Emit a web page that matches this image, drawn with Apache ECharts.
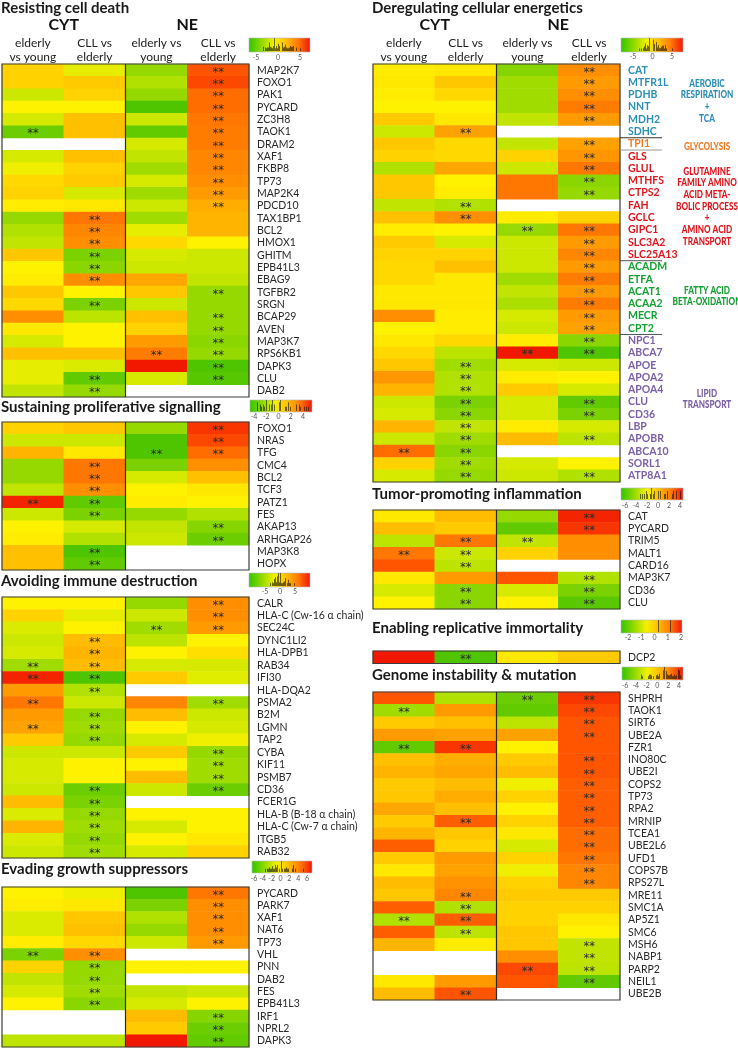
<!DOCTYPE html>
<html><head><meta charset="utf-8">
<script src="https://cdn.jsdelivr.net/npm/echarts@6.0.0/dist/echarts.min.js"></script>
<style>html,body{margin:0;padding:0;background:#fff}#c{width:738px;height:1049px}</style>
</head><body><div id="c"></div>
<script>
// ---------- DATA ----------
const columns = ['CYT elderly vs young', 'CYT CLL vs elderly', 'NE elderly vs young', 'NE CLL vs elderly'];

const cellDeathGenes = ['MAP2K7','FOXO1','PAK1','PYCARD','ZC3H8','TAOK1','DRAM2','XAF1','FKBP8','TP73','MAP2K4','PDCD10','TAX1BP1','BCL2','HMOX1','GHITM','EPB41L3','EBAG9','TGFBR2','SRGN','BCAP29','AVEN','MAP3K7','RPS6KB1','DAPK3','CLU','DAB2'];
const cellDeathValues = [
  [1,-0.5,-2,4],[1,1.2,-1.5,4.2],[-1,1,-2,3.5],[0,0,-3.5,3.5],[-0.8,1.5,-1,3.3],[-2.8,1.5,-3,3.2],
  [null,null,-0.8,3.2],[-0.8,1.5,-1.2,3],[-0.3,1,-1.8,3],[0.8,1.2,-0.8,2.8],[1,-0.8,-1.8,2.5],[0.2,0.3,-1,2],
  [-2,3.3,-1.8,1.8],[-1.5,3,-0.5,1.8],[-1.2,2.8,0.8,0],[1.3,-2.5,-0.8,-1],[0,-2.2,-1,-1],[0.2,2.8,2.2,-1.2],
  [1.3,0,1.3,-2],[0.8,-2.5,-1,-2],[2.8,-1.3,1.5,-2],[0.3,0,1,-2],[-0.8,0,2.5,-2.2],[1.5,1.5,3.2,-2],
  [-0.5,-0.7,5,-3.5],[-0.5,-3,-0.8,-3.3],[-1.2,-2,null,null]
];
const cellDeathSig = [
  [0,0,0,1],[0,0,0,1],[0,0,0,1],[0,0,0,1],[0,0,0,1],[1,0,0,1],[0,0,0,1],[0,0,0,1],[0,0,0,1],[0,0,0,1],
  [0,0,0,1],[0,0,0,1],[0,1,0,0],[0,1,0,0],[0,1,0,0],[0,1,0,0],[0,1,0,0],[0,1,0,0],[0,0,0,1],[0,1,0,0],
  [0,0,0,1],[0,0,0,1],[0,0,0,1],[0,0,1,1],[0,0,0,1],[0,1,0,1],[0,1,0,0]
];

const prolifGenes = ['FOXO1','NRAS','TFG','CMC4','BCL2','TCF3','PATZ1','FES','AKAP13','ARHGAP26','MAP3K8','HOPX'];
const prolifValues = [
  [1,1.3,-2,4.5],[-1,-1,-3.5,4.2],[1.8,0.3,-3.5,3.5],[-2,3.3,-2.5,2.8],[-2,3.3,-0.8,1.5],[-1.2,2.8,0,0.3],
  [4.8,-3,0.2,0],[-1,-2.5,-2,-1.5],[0,-0.8,-1.2,-2.3],[0.2,-1.5,-1,-2.8],[1.5,-3.5,null,null],[1.5,-3,null,null]
];
const prolifSig = [
  [0,0,0,1],[0,0,0,1],[0,0,1,1],[0,1,0,0],[0,1,0,0],[0,1,0,0],[1,1,0,0],[0,1,0,0],[0,0,0,1],[0,0,0,1],[0,1,0,0],[0,1,0,0]
];

const immuneGenes = ['CALR','HLA-C (Cw-16 \u03b1 chain)','SEC24C','DYNC1LI2','HLA-DPB1','RAB34','IFI30','HLA-DQA2','PSMA2','B2M','LGMN','TAP2','CYBA','KIF11','PSMB7','CD36','FCER1G','HLA-B (B-18 \u03b1 chain)','HLA-C (Cw-7 \u03b1 chain)','ITGB5','RAB32'];
const immuneValues = [
  [0,0,-2,2.8],[1,-0.5,-1,2.8],[-0.7,0,-1.8,2.5],[-1,1.6,-1.3,0],[-0.8,1.8,0,0.6],[-1.8,1.6,-0.8,-0.8],
  [4.8,-3.5,1.2,-0.6],[2.5,-1.5,null,null],[3.3,-1,3,-1.8],[2.5,-2,1.6,-1],[2.3,-1.8,0,-0.8],[1.2,-2,-0.8,-0.3],
  [-1,-1,1.2,-2],[-0.8,0,0,-1.8],[-0.8,0,1.6,-1.8],[-1,-2.8,-1,-2.8],[1.6,-2.5,null,null],[-0.7,-2,0,0],
  [1.8,-1.8,-0.8,0],[-0.7,-2,0,0.3],[-1,-1.8,-0.8,1]
];
const immuneSig = [
  [0,0,0,1],[0,0,0,1],[0,0,1,1],[0,1,0,0],[0,1,0,0],[1,1,0,0],[1,1,0,0],[0,1,0,0],[1,0,0,1],[0,1,0,0],
  [1,1,0,0],[0,1,0,0],[0,0,0,1],[0,0,0,1],[0,0,0,1],[0,1,0,1],[0,1,0,0],[0,1,0,0],[0,1,0,0],[0,1,0,0],[0,1,0,0]
];

const suppressorGenes = ['PYCARD','PARK7','XAF1','NAT6','TP73','VHL','PNN','DAB2','FES','EPB41L3','IRF1','NPRL2','DAPK3'];
const suppressorValues = [
  [0,-0.3,-3.5,3.3],[0.2,0.3,-2.5,2.8],[-0.7,1.3,-1.5,2.8],[-0.7,1.5,-2,2.8],[0.2,0.8,-1,2.5],[-2.5,2.8,null,null],
  [1,-2,0,0],[-1.2,-2,null,null],[-0.8,-1.8,-1.2,-1],[0,-2.2,-0.8,0],[null,null,1.6,-2.3],[null,null,1.2,-2.8],[-1.3,-1.3,5,-3]
];
const suppressorSig = [
  [0,0,0,1],[0,0,0,1],[0,0,0,1],[0,0,0,1],[0,0,0,1],[1,1,0,0],[0,1,0,0],[0,1,0,0],[0,1,0,0],[0,1,0,0],[0,0,0,1],[0,0,0,1],[0,0,0,1]
];

const energeticsGenes = ['CAT','MTFR1L','PDHB','NNT','MDH2','SDHC','TPI1','GLS','GLUL','MTHFS','CTPS2','FAH','GCLC','GIPC1','SLC3A2','SLC25A13','ACADM','ETFA','ACAT1','ACAA2','MECR','CPT2','NPC1','ABCA7','APOE','APOA2','APOA4','CLU','CD36','LBP','APOBR','ABCA10','SORL1','ATP8A1'];
const energeticsValues = [
  [0.2,0.3,-2.3,2.8],[0.3,1.3,-1.8,2.5],[0.2,0.8,-1.8,2.8],[0,0,-1.8,3.2],[1.2,0.3,-1.2,2.5],[-1,2.3,null,null],
  [1.3,0.8,-1.2,2.3],[1,0.8,1,2.6],[-1.5,2.2,-1,3.3],[1.3,0,3.3,-2.2],[1.3,0.2,3.3,-2],[-1.2,-1.5,null,null],
  [1.5,2.8,0.2,1],[0.2,0,-2,3.3],[1.2,-0.8,-1,2.5],[1,1,-1,3],[0.8,1.5,-1,2.5],[0.8,0.3,-1.8,3.2],
  [0.3,0.3,-1.2,2.5],[0.3,0.3,-1.6,3.2],[2.8,0.2,-0.8,2.5],[0,0.2,-1,2.3],[0.3,0.8,0.2,-2.2],[0.8,-1.3,5,-3.5],
  [1.3,-1.8,-0.8,-1],[2.6,-1.5,0.2,0],[1.8,-1.5,1.2,-0.8],[-1,-2.5,-0.8,-3],[-0.8,-2.2,-0.8,-2.5],[1.8,-1.2,0.2,-0.8],
  [-1,-1.8,1.6,-1.3],[3.5,-2.2,null,null],[1,-1.8,-0.8,0],[-0.8,-2,-1,-1.5]
];
const energeticsSig = [
  [0,0,0,1],[0,0,0,1],[0,0,0,1],[0,0,0,1],[0,0,0,1],[0,1,0,0],[0,0,0,1],[0,0,0,1],[0,0,0,1],[0,0,0,1],
  [0,0,0,1],[0,1,0,0],[0,1,0,0],[0,0,1,1],[0,0,0,1],[0,0,0,1],[0,0,0,1],[0,0,0,1],[0,0,0,1],[0,0,0,1],
  [0,0,0,1],[0,0,0,1],[0,0,0,1],[0,0,1,1],[0,1,0,0],[0,1,0,0],[0,1,0,0],[0,1,0,1],[0,1,0,1],[0,1,0,0],
  [0,1,0,1],[1,1,0,0],[0,1,0,0],[0,1,0,1]
];
const energeticsGroups = ['aer','aer','aer','aer','aer','aer','gly','gln','gln','gln','gln','gln','gln','gln','gln','gln','fa','fa','fa','fa','fa','fa','lip','lip','lip','lip','lip','lip','lip','lip','lip','lip','lip','lip'];
const groupColors = {aer:'#2b8fb5', gly:'#f07a22', gln:'#e0151d', fa:'#16a033', lip:'#7b60a8'};
const groupLabels = [
  {g:'aer', lines:['AEROBIC','RESPIRATION','+','TCA'], y:83},
  {g:'gly', lines:['GLYCOLYSIS'], y:146},
  {g:'gln', lines:['GLUTAMINE','FAMILY AMINO','ACID META-','BOLIC PROCESS','+','AMINO ACID','TRANSPORT'], y:171},
  {g:'fa', lines:['FATTY ACID','BETA-OXIDATION'], y:290},
  {g:'lip', lines:['LIPID','TRANSPORT'], y:393}
];

const inflamGenes = ['CAT','PYCARD','TRIM5','MALT1','CARD16','MAP3K7','CD36','CLU'];
const inflamValues = [
  [0.3,1.6,-2,4.8],[1.6,1.2,-3,4.5],[-1.3,3.3,-1.2,2.8],[3.3,-1,1,2.8],[4,-1.3,null,null],[0.3,2.5,4,-1.5],[-0.8,-2.2,-0.8,-2.5],[0,-2.2,0,-3.2]
];
const inflamSig = [[0,0,0,1],[0,0,0,1],[0,1,1,0],[1,1,0,0],[0,1,0,0],[0,0,0,1],[0,1,0,1],[0,1,0,1]];

const immortGenes = ['DCP2'];
const immortValues = [[5,-3.5,0.3,1.2]];
const immortSig = [[0,1,0,0]];

const genomeGenes = ['SHPRH','TAOK1','SIRT6','UBE2A','FZR1','INO80C','UBE2I','COPS2','TP73','RPA2','MRNIP','TCEA1','UBE2L6','UFD1','COPS7B','RPS27L','MRE11','SMC1A','AP5Z1','SMC6','MSH6','NABP1','PARP2','NEIL1','UBE2B'];
const genomeValues = [
  [4,-1.5,-2.8,4.5],[-1.8,2.5,-3,4.2],[1.2,1.5,-1.3,4],[2.5,2.3,2.3,4],[-3,4.5,0,4],[1.5,2,1.2,4],
  [1.8,2.2,1.6,4],[1.2,1.6,-0.3,3.8],[1.3,2,1,3.8],[2.2,1.5,0,3.8],[1.2,3.8,1,3.8],[1.8,1.3,0.3,3.5],
  [3.8,1,-0.8,3.5],[1.2,2.5,1,3.3],[0.3,2.3,-0.3,3],[1.6,2.7,1,3],[1.3,3,1.2,1.2],[3.8,-1.5,1,1],
  [-1.5,3.8,1,0.3],[3.8,-1.3,1.3,0],[1.8,0.2,1.3,-1.2],[null,null,2.8,-1.2],[null,null,4.2,-1.3],[0.3,2.5,4,-3],[1.6,4,null,null]
];
const genomeSig = [
  [0,0,1,1],[1,0,0,1],[0,0,0,1],[0,0,0,1],[1,1,0,0],[0,0,0,1],[0,0,0,1],[0,0,0,1],[0,0,0,1],[0,0,0,1],
  [0,1,0,1],[0,0,0,1],[0,0,0,1],[0,0,0,1],[0,0,0,1],[0,0,0,1],[0,1,0,0],[0,1,0,0],[1,1,0,0],[0,1,0,0],
  [0,0,0,1],[0,0,0,1],[0,0,1,1],[0,0,0,1],[0,1,0,0]
];

const legendTicksA = ['-5','0','5'];
const legendTicksB = ['-4','-2','0','2','4'];
const legendTicksC = ['-6','-4','-2','0','2','4','6'];
const legendTicksD = ['-6','-4','-2','0','2','4'];
const legendTicksE = ['-2','-1','0','1','2'];

// ---------- LAYOUT ----------
const FONT = 'Lato, "Open Sans", sans-serif';
const W = 247;
const panels = [
  {title:'Resisting cell death', genes:cellDeathGenes, values:cellDeathValues, sig:cellDeathSig, x:2, top:64, h:333, ty:8, header:true,
   leg:{x:249,y:38,w:61,h:14,ticks:legendTicksA,t0:256,t1:300,ty:58}},
  {title:'Sustaining proliferative signalling', genes:prolifGenes, values:prolifValues, sig:prolifSig, x:2, top:422, h:148, ty:407,
   leg:{x:250,y:400,w:62,h:12,ticks:legendTicksB,t0:254,t1:303,ty:417}},
  {title:'Avoiding immune destruction', genes:immuneGenes, values:immuneValues, sig:immuneSig, x:2, top:597, h:261, ty:581,
   leg:{x:249,y:573,w:61,h:14,ticks:legendTicksA,t0:265,t1:295,ty:592}},
  {title:'Evading growth suppressors', genes:suppressorGenes, values:suppressorValues, sig:suppressorSig, x:2, top:887, h:160, ty:869,
   leg:{x:252,y:861,w:60,h:12,ticks:legendTicksC,t0:254,t1:307,ty:879}},
  {title:'Deregulating cellular energetics', genes:energeticsGenes, values:energeticsValues, sig:energeticsSig, x:373, top:64, h:418, ty:8, header:true, energetics:true,
   leg:{x:621,y:38,w:62,h:14,ticks:legendTicksA,t0:633,t1:672,ty:57}},
  {title:'Tumor-promoting inflammation', genes:inflamGenes, values:inflamValues, sig:inflamSig, x:373, top:510, h:99, ty:494,
   leg:{x:621,y:488,w:62,h:12,ticks:legendTicksD,t0:625,t1:680,ty:506}},
  {title:'Enabling replicative immortality', genes:immortGenes, values:immortValues, sig:immortSig, x:373, top:651, h:12.5, ty:628,
   leg:{x:621,y:620,w:61,h:13,ticks:legendTicksE,t0:628,t1:681,ty:638}},
  {title:'Genome instability & mutation', genes:genomeGenes, values:genomeValues, sig:genomeSig, x:373, top:692, h:308, ty:675,
   leg:{x:622,y:667,w:61,h:13,ticks:legendTicksD,t0:625,t1:679,ty:686}}
];

const heatColors = ['#20b000','#3cbe00','#62cb00','#96d900','#cce800','#fff200','#ffd200','#ffae00','#ff8600','#ff5400','#f21800'];

const grids = [], xAxes = [], yAxes = [], series = [], graphics = [];
function txt(text, x, y, opt, sx) {
  graphics.push({type:'text', z:100, x, y, scaleX:sx || 1, style:Object.assign({text, x:0, y:0, fill:'#222', font:'12px ' + FONT,
    align:'center', textAlign:'center', verticalAlign:'middle', textVerticalAlign:'middle'}, opt || {})});
}

panels.forEach((p, pi) => {
  grids.push({left:p.x, top:p.top, width:W, height:p.h, containLabel:false, show:true, backgroundColor:'#fff', borderWidth:0});
  xAxes.push({type:'category', gridIndex:pi, data:columns, show:false});
  const isE = !!p.energetics;
  yAxes.push({type:'category', gridIndex:pi, data:p.genes, inverse:true, position:'right',
    axisLine:{show:false}, axisTick:{show:false}, splitLine:{show:false},
    axisLabel:{interval:0, margin:8, fontFamily:FONT, fontSize:10.5, fontWeight:isE ? 'bold' : 'normal',
      color: isE ? ((v) => groupColors[energeticsGroups[energeticsGenes.indexOf(v)]]) : '#2a2a2a'}});
  const data = [];
  p.values.forEach((row, r) => row.forEach((v, c) => {
    if (v !== null) data.push({value:[c, r, v], sig:p.sig[r][c]});
  }));
  series.push({type:'heatmap', xAxisIndex:pi, yAxisIndex:pi, data, progressive:0, emphasis:{disabled:true},
    itemStyle:{borderWidth:0},
    label:{show:true, formatter:(q) => q.data.sig ? '**' : '', color:'#2b2b2b', fontSize:11.5,
      fontFamily:'"DejaVu Sans", sans-serif', offset:[0, 2.5]}});
  // frame and CYT|NE divider
  graphics.push({type:'rect', z:90, shape:{x:p.x, y:p.top, width:W, height:p.h}, style:{fill:'none', stroke:'#3c3c3c', lineWidth:1.2}});
  graphics.push({type:'line', z:90, shape:{x1:p.x + W/2, y1:p.top, x2:p.x + W/2, y2:p.top + p.h}, style:{stroke:'#2a2a2a', lineWidth:1.2}});
  // title
  txt(p.title, p.x - 1, p.ty, {font:'bold 15px ' + FONT, align:'left', textAlign:'left', fill:'#1a1a1a'});
  // legend: gradient bar + histogram of this panel's values + tick labels
  const L = p.leg;
  graphics.push({type:'rect', z:90, shape:{x:L.x, y:L.y, width:L.w, height:L.h},
    style:{stroke:'#bbb', lineWidth:0.6, fill:new echarts.graphic.LinearGradient(0,0,1,0,[
      {offset:0,color:'#2ec400'},{offset:0.2,color:'#8ed800'},{offset:0.42,color:'#f6f000'},
      {offset:0.6,color:'#ffc000'},{offset:0.8,color:'#ff7a00'},{offset:1,color:'#f0140f'}])}});
  const tv0 = parseFloat(L.ticks[0]), tv1 = parseFloat(L.ticks[L.ticks.length - 1]);
  const toX = (v) => L.t0 + (v - tv0) / (tv1 - tv0) * (L.t1 - L.t0);
  const bins = {};
  p.values.forEach(row => row.forEach(v => {
    if (v === null) return;
    const bx = Math.round(toX(v));
    if (bx > L.x + 1 && bx < L.x + L.w - 1) bins[bx] = (bins[bx] || 0) + 1;
  }));
  const maxC = Math.max(1, ...Object.values(bins));
  Object.keys(bins).forEach(bx => {
    const hh = 2 + (L.h - 3) * bins[bx] / maxC;
    graphics.push({type:'line', z:95, shape:{x1:+bx + 0.5, y1:L.y + L.h - 1, x2:+bx + 0.5, y2:L.y + L.h - 1 - hh},
      style:{stroke:'#111', lineWidth:0.8, opacity:0.75}});
  });
  L.ticks.forEach((t, i) => {
    const tx = L.t0 + (L.t1 - L.t0) * i / (L.ticks.length - 1);
    txt(t, tx, L.ty, {font:'7px ' + FONT, fill:'#555'});
  });
  if (p.header) {
    const cw = W / 4;
    txt('CYT', p.x + cw, 25, {font:'bold 16px ' + FONT, fill:'#111'});
    txt('NE', p.x + 3 * cw, 25, {font:'bold 16px ' + FONT, fill:'#111'});
    const heads = [['elderly','vs young'],['CLL vs','elderly'],['elderly vs','young'],['CLL vs','elderly']];
    heads.forEach((h, i) => {
      txt(h[0], p.x + cw * (i + 0.5), 43, {font:'12px ' + FONT});
      txt(h[1], p.x + cw * (i + 0.5), 57, {font:'12px ' + FONT});
    });
  }
  if (isE) {
    const rowH = p.h / p.genes.length;
    [[6,'#333'],[7,'#999'],[16,'#555'],[22,'#555']].forEach(([idx, col]) => {
      const yy = p.top + idx * rowH;
      graphics.push({type:'line', z:90, shape:{x1:p.x + W, y1:yy, x2:p.x + W + 42, y2:yy}, style:{stroke:col, lineWidth:1}});
    });
    groupLabels.forEach(gl => {
      gl.lines.forEach((ln, k) => txt(ln, 707, gl.y + k * 11.7, {font:'900 11px ' + FONT, fill:groupColors[gl.g]}, 0.74));
    });
  }
});

const chart = echarts.init(document.getElementById('c'), null, {renderer:'canvas'});
chart.setOption({
  animation:false,
  backgroundColor:'#fff',
  grid:grids, xAxis:xAxes, yAxis:yAxes, series,
  visualMap:{type:'continuous', show:false, min:-5, max:5, seriesIndex:series.map((s, i) => i),
    inRange:{color:heatColors}},
  graphic:{elements:graphics}
});
</script></body></html>
